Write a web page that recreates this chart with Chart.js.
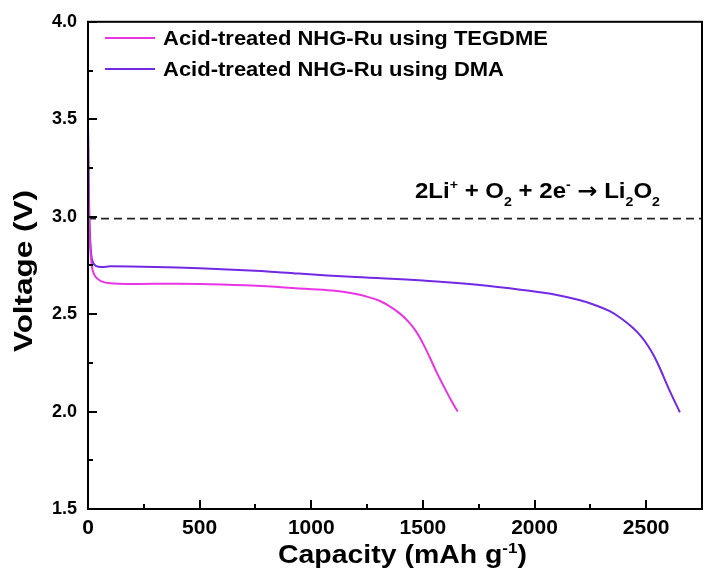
<!DOCTYPE html>
<html>
<head>
<meta charset="utf-8">
<script src="https://cdn.jsdelivr.net/npm/chart.js@4.4.0/dist/chart.umd.min.js"></script>
<style>
  html, body { margin: 0; padding: 0; background: #fff; }
  #wrap { width: 709px; height: 575px; }
</style>
</head>
<body>
<div id="wrap"><canvas id="myChart" width="709" height="575"></canvas></div>
<script>
// discharge curves
const tegdmeCap = [0, 3, 6, 10, 15, 22, 35, 60, 100, 200, 400, 600, 800, 944, 1092, 1200, 1260, 1310, 1355, 1400, 1440, 1470, 1500, 1530, 1560, 1600, 1630, 1656];
const tegdmeV = [3.45, 3.15, 2.95, 2.84, 2.77, 2.72, 2.69, 2.668, 2.658, 2.655, 2.656, 2.652, 2.643, 2.631, 2.621, 2.603, 2.586, 2.566, 2.537, 2.5, 2.455, 2.41, 2.35, 2.28, 2.205, 2.115, 2.05, 2.0];

const dmaCap = [0, 3, 6, 10, 15, 22, 35, 60, 100, 300, 500, 750, 944, 1200, 1500, 1744, 1967, 2100, 2200, 2270, 2337, 2390, 2440, 2478, 2508, 2535, 2560, 2605, 2651];
const dmaV = [3.48, 3.2, 3.0, 2.88, 2.8, 2.765, 2.748, 2.742, 2.745, 2.742, 2.735, 2.722, 2.708, 2.69, 2.672, 2.651, 2.621, 2.598, 2.572, 2.547, 2.515, 2.476, 2.43, 2.385, 2.338, 2.285, 2.226, 2.107, 1.996];

// equilibrium potential of 2Li+ + O2 + 2e- -> Li2O2
const refCap = [0, 2750];
const refV = [2.99, 2.99];

const seriesLabels = ["Acid-treated NHG-Ru using TEGDME", "Acid-treated NHG-Ru using DMA"];
const xTickStep = 250, xMajor = 500;
const yTickStep = 0.25, yMajor = 0.5;

const toPts = (xs, ys) => xs.map((v, i) => ({ x: v, y: ys[i] }));
const isMajor = (v, step) => Math.abs(v / step - Math.round(v / step)) < 1e-6;

const FONT = "'Liberation Sans', Arial, sans-serif";

function partFont(p, size) {
  const s = p.sub || p.sup ? Math.round(size * 0.6) : size;
  return "bold " + s + "px " + (p.arrow ? "'DejaVu Sans'" : FONT);
}

function richWidth(ctx, parts, size) {
  let total = 0;
  parts.forEach(p => {
    ctx.font = partFont(p, size);
    total += ctx.measureText(p.t).width;
  });
  return total;
}

/* text pieces with sub / superscripts, stretched sideways by sx */
function drawRich(ctx, parts, x, y, size, sx) {
  ctx.save();
  ctx.translate(x, y);
  ctx.scale(sx, 1);
  let cx = 0;
  parts.forEach(p => {
    ctx.font = partFont(p, size);
    const dy = p.sub ? size * 0.38 : p.sup ? -size * 0.42 : 0;
    ctx.fillText(p.t, cx, dy);
    cx += ctx.measureText(p.t).width;
  });
  ctx.restore();
}

const frameAndText = {
  id: "frameAndText",
  afterDraw(chart) {
    const { ctx, chartArea: { left, right, top, bottom }, scales: { x, y } } = chart;
    ctx.save();
    ctx.strokeStyle = "#000";
    ctx.lineWidth = 2;
    ctx.strokeRect(left, top, right - left, bottom - top);

    /* ticks pointing inward */
    ctx.beginPath();
    y.ticks.forEach(t => {
      const py = Math.round(y.getPixelForValue(t.value));
      const len = isMajor(t.value, yMajor) ? 9 : 5;
      ctx.moveTo(left, py);
      ctx.lineTo(left + len, py);
    });
    x.ticks.forEach(t => {
      const px = Math.round(x.getPixelForValue(t.value));
      const len = isMajor(t.value, xMajor) ? 9 : 5;
      ctx.moveTo(px, bottom);
      ctx.lineTo(px, bottom - len);
    });
    ctx.stroke();

    ctx.fillStyle = "#000";
    ctx.textAlign = "left";
    ctx.textBaseline = "alphabetic";

    /* legend, both lines at the stretch that makes the first one 385px wide */
    const legSize = 20;
    const legSx = 385 / richWidth(ctx, [{ t: seriesLabels[0] }], legSize);
    chart.data.datasets.slice(0, 2).forEach((ds, i) => {
      const ly = 38 + i * 31;
      ctx.strokeStyle = ds.borderColor;
      ctx.lineWidth = 2;
      ctx.beginPath();
      ctx.moveTo(105, ly);
      ctx.lineTo(155, ly);
      ctx.stroke();
      drawRich(ctx, [{ t: ds.label }], 163, ly + 7, legSize, legSx);
    });

    /* reaction */
    const eq = [
      { t: "2Li" }, { t: "+", sup: true }, { t: " + O" }, { t: "2", sub: true },
      { t: " + 2e" }, { t: "-", sup: true }, { t: " " }, { t: "\u2192", arrow: true }, { t: " Li" }, { t: "2", sub: true },
      { t: "O" }, { t: "2", sub: true }
    ];
    drawRich(ctx, eq, 415, 198, 22, 245 / richWidth(ctx, eq, 22));

    /* x title */
    const xt = [{ t: "Capacity (mAh g" }, { t: "-1", sup: true }, { t: ")" }];
    drawRich(ctx, xt, 278, 563, 25, 249 / richWidth(ctx, xt, 25));

    /* y title */
    const yt = [{ t: "Voltage (V)" }];
    ctx.translate(32, 352);
    ctx.rotate(-Math.PI / 2);
    drawRich(ctx, yt, 0, 0, 25, 162 / richWidth(ctx, yt, 25));
    ctx.restore();
  }
};

const canvas = document.getElementById("myChart");
new Chart(canvas.getContext("2d"), {
  type: "line",
  data: {
    datasets: [
      {
        label: seriesLabels[0],
        data: toPts(tegdmeCap, tegdmeV),
        borderColor: "#e935e6",
        borderWidth: 2,
        pointRadius: 0,
        tension: 0.4
      },
      {
        label: seriesLabels[1],
        data: toPts(dmaCap, dmaV),
        borderColor: "#7229e4",
        borderWidth: 2,
        pointRadius: 0,
        tension: 0.4
      },
      {
        label: "ref",
        data: toPts(refCap, refV),
        borderColor: "#222",
        borderWidth: 1.6,
        borderDash: [8, 5],
        pointRadius: 0
      }
    ]
  },
  options: {
    responsive: false,
    animation: false,
    layout: { padding: { top: 19, right: 3, left: 0, bottom: 0 } },
    plugins: { legend: { display: false }, tooltip: { enabled: false } },
    scales: {
      x: {
        type: "linear",
        min: 0,
        max: 2750,
        grid: { display: false, drawTicks: false },
        border: { display: false },
        ticks: {
          stepSize: xTickStep,
          autoSkip: false,
          maxRotation: 0,
          padding: 7,
          color: "#000",
          font: { family: FONT, size: 21, weight: "bold" },
          callback: v => (isMajor(v, xMajor) ? String(v) : "")
        },
        afterFit: s => { s.height = 66; }
      },
      y: {
        min: 1.5,
        max: 4.0,
        grid: { display: false, drawTicks: false },
        border: { display: false },
        ticks: {
          stepSize: yTickStep,
          autoSkip: false,
          padding: 11,
          color: "#000",
          font: { family: FONT, size: 18, weight: "bold" },
          callback: v => (isMajor(v, yMajor) ? v.toFixed(1) : "")
        },
        afterFit: s => { s.width = 88; }
      }
    }
  },
  plugins: [frameAndText]
});
</script>
</body>
</html>
